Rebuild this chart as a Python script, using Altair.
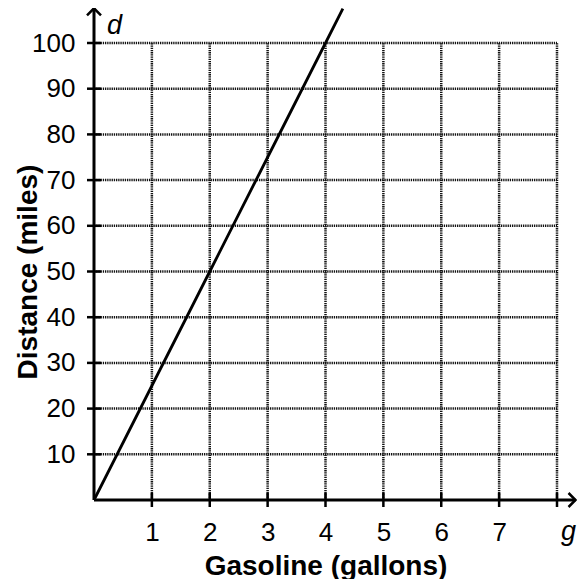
import altair as alt
import pandas as pd

# ---- data ----
gallons = [0, 1, 2, 3, 4, 4.3]
miles = [0, 25, 50, 75, 100, 107.5]

x_ticks = [1, 2, 3, 4, 5, 6, 7, 8]
x_labels = [1, 2, 3, 4, 5, 6, 7]
y_ticks = [10, 20, 30, 40, 50, 60, 70, 80, 90, 100]

x_max = 8
y_max = 100
x_arrow_end = 8.32
y_arrow_end = 107.6

ann_text = ["d", "g"]
ann_g = [0.225, 8.07]
ann_d = [102, -8.75]

FONT = "Liberation Sans"

line_df = pd.DataFrame({"g": gallons, "d": miles})
gh_df = pd.DataFrame({"d": y_ticks, "g": [0] * len(y_ticks), "g2": [x_max] * len(y_ticks)})
gv_df = pd.DataFrame({"g": x_ticks, "d": [0] * len(x_ticks), "d2": [y_max] * len(x_ticks)})
xa_df = pd.DataFrame({"g": [0], "g2": [x_arrow_end], "d": [0]})
ya_df = pd.DataFrame({"g": [0], "d": [0], "d2": [y_arrow_end]})
arr_up_df = pd.DataFrame({"g": [0], "d": [y_arrow_end]})
arr_rt_df = pd.DataFrame({"g": [x_arrow_end], "d": [0]})
ann_df = pd.DataFrame({"t": ann_text, "g": ann_g, "d": ann_d})

xscale = alt.Scale(domain=[0, x_max], nice=False, zero=False)
yscale = alt.Scale(domain=[0, y_max], nice=False, zero=False)

W, H = 463, 457


def X(field="g"):
    return alt.X(f"{field}:Q", scale=xscale, axis=None)


def Y(field="d"):
    return alt.Y(f"{field}:Q", scale=yscale, axis=None)


# the data line, which also carries the axes (labels and titles only)
line = alt.Chart(line_df).mark_line(color="black", strokeWidth=2.8).encode(
    x=alt.X("g:Q", scale=xscale, axis=alt.Axis(
        values=x_labels, tickSize=0, domain=False, grid=False,
        labelFont=FONT, labelFontSize=26, labelColor="black",
        labelPadding=40, labelBaseline="alphabetic",
        title="Gasoline (gallons)", titleFont=FONT, titleFontSize=28,
        titleFontWeight="bold", titleColor="black",
        titleX=W / 2, titleY=74, titleAlign="center", titleBaseline="alphabetic",
    )),
    y=alt.Y("d:Q", scale=yscale, axis=alt.Axis(
        values=y_ticks, tickSize=0, domain=False, grid=False,
        labelFont=FONT, labelFontSize=26, labelColor="black",
        labelPadding=19,
        title="Distance (miles)", titleFont=FONT, titleFontSize=28,
        titleFontWeight="bold", titleColor="black",
        titleX=-58, titleY=H / 2, titleAlign="center", titleBaseline="alphabetic",
        titleAngle=270,
    )),
)

grid_style = dict(color="#111111", strokeWidth=2.5, strokeDash=[1.3, 0.9])

grid_h = alt.Chart(gh_df).mark_rule(**grid_style).encode(
    y=Y("d"), x=X("g"), x2="g2:Q",
)
grid_v = alt.Chart(gv_df).mark_rule(**grid_style).encode(
    x=X("g"), y=Y("d"), y2="d2:Q",
)

x_axis_line = alt.Chart(xa_df).mark_rule(color="black", strokeWidth=3).encode(
    x=X("g"), x2="g2:Q", y=Y("d"),
)
y_axis_line = alt.Chart(ya_df).mark_rule(color="black", strokeWidth=3).encode(
    x=X("g"), y=Y("d"), y2="d2:Q",
)

y_cross = alt.Chart(gh_df).mark_rule(color="black", strokeWidth=2.5, xOffset=-7, x2Offset=7).encode(
    y=Y("d"), x=X("g"), x2="g:Q",
)
x_cross = alt.Chart(gv_df).mark_rule(color="black", strokeWidth=2.5, yOffset=-7, y2Offset=7).encode(
    x=X("g"), y=Y("d"), y2="d:Q",
)

arrow_up = alt.Chart(arr_up_df).mark_point(
    shape="M-1,1L0,0L1,1", filled=False, size=196, strokeWidth=2.5, color="black", opacity=1
).encode(x=X("g"), y=Y("d"))
arrow_right = alt.Chart(arr_rt_df).mark_point(
    shape="M-1,-1L0,0L-1,1", filled=False, size=196, strokeWidth=2.5, color="black", opacity=1
).encode(x=X("g"), y=Y("d"))

ann = alt.Chart(ann_df).mark_text(
    font=FONT, fontSize=27, fontStyle="italic", align="left", baseline="alphabetic", color="black"
).encode(x=X("g"), y=Y("d"), text="t:N")

chart = alt.layer(
    grid_h, grid_v, line, x_axis_line, y_axis_line, y_cross, x_cross,
    arrow_up, arrow_right, ann,
).resolve_axis(
    x="independent", y="independent"
).properties(
    width=W, height=H,
    autosize=alt.AutoSizeParams(type="none"),
    padding={"left": 86, "top": 35, "right": 20, "bottom": 79},
    background="white",
).configure_view(stroke=None)

chart.save("out.html", embed_options={"renderer": "svg", "actions": False})
